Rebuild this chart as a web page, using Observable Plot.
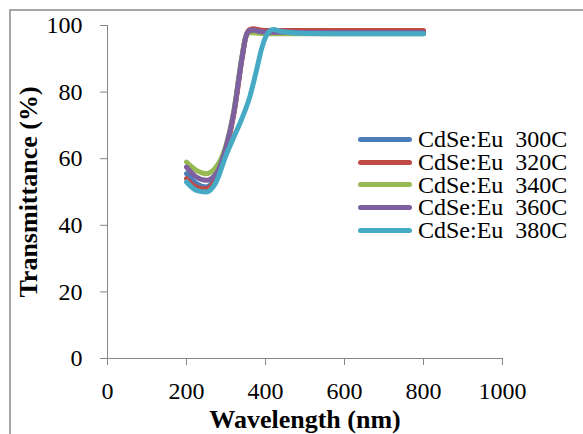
<!DOCTYPE html>
<html>
<head>
<meta charset="utf-8">
<script src="https://cdn.jsdelivr.net/npm/d3@7"></script>
<script src="https://cdn.jsdelivr.net/npm/@observablehq/plot@0.6"></script>
<style>
  html, body { margin: 0; padding: 0; background: #fff; }
  #wrap { position: relative; width: 583px; height: 434px; overflow: hidden; font-family: "Liberation Serif", "Times New Roman", serif; background: #fff; }
  #frame { position: absolute; left: 9px; top: 9px; width: 600px; height: 500px; border-top: 2px solid #a6a6a6; border-left: 2px solid #a6a6a6; pointer-events: none; }
  #chart { position: absolute; left: 0; top: 0; }
  #legend { position: absolute; left: 358px; top: 128px; }
  .row { display: flex; align-items: center; height: 22.7px; }
  .sw { width: 54px; height: 5px; border-radius: 3px; margin-right: 6px; }
  .lab { font-size: 24px; color: #000; white-space: pre; line-height: 22px; }
</style>
</head>
<body>
<div id="wrap">
  <div id="chart"></div>
  <div id="legend"></div>
  <div id="frame"></div>
</div>
<script>
const wavelength = [200, 225, 250, 275, 300, 320, 340, 350, 360, 370, 380, 390, 400, 410, 420, 440, 500, 600, 700, 800];
const t300 = [55.5, 52.5, 51.5, 54.5, 63, 74, 90, 96.5, 98.5, 98.3, 98.1, 98.0, 98.0, 97.9, 97.9, 97.9, 97.8, 97.8, 97.8, 97.8];
const t320 = [54, 51.5, 51, 54, 62.5, 73.5, 89.5, 96.5, 98.8, 99, 98.8, 98.6, 98.5, 98.5, 98.5, 98.5, 98.5, 98.5, 98.5, 98.5];
const t340 = [59, 56.5, 55.5, 57.5, 64, 74.5, 90.5, 96.5, 97.8, 97.8, 97.7, 97.6, 97.5, 97.5, 97.5, 97.5, 97.5, 97.5, 97.5, 97.5];
const t360 = [57.5, 54.5, 53.5, 55.5, 63.5, 74, 90, 96.5, 98.5, 98.6, 98.3, 98.1, 98.0, 98.0, 98.0, 98.0, 97.9, 97.9, 97.9, 97.9];
const t380 = [53, 50.5, 50, 53, 61, 66.5, 72, 75, 78.5, 83, 88, 93, 96.5, 98.3, 98.8, 98.2, 97.6, 97.5, 97.5, 97.5];

const seriesNames = ["CdSe:Eu  300C", "CdSe:Eu  320C", "CdSe:Eu  340C", "CdSe:Eu  360C", "CdSe:Eu  380C"];
const seriesColors = ["#4A7EBB", "#BE4B48", "#98B954", "#7D60A0", "#46AAC5"];
const xTicks = [0, 200, 400, 600, 800, 1000];
const yTicks = [0, 20, 40, 60, 80, 100];

const allSeries = [t300, t320, t340, t360, t380];
const rows = [];
allSeries.forEach((vals, i) => {
  vals.forEach((v, j) => rows.push({wl: wavelength[j], t: v, s: seriesNames[i]}));
});

const font = '"Liberation Serif", "Times New Roman", serif';
const axisGrey = "#868686";

const chart = Plot.plot({
  width: 583,
  height: 434,
  marginLeft: 107,
  marginRight: 81,
  marginTop: 25,
  marginBottom: 76,
  style: {fontFamily: font, fontSize: "24px", background: "transparent", color: "#000"},
  x: {domain: [0, 1000]},
  y: {domain: [0, 100]},
  color: {domain: seriesNames, range: seriesColors},
  marks: [
    Plot.ruleX([0], {stroke: axisGrey, strokeWidth: 1}),
    Plot.ruleY([0], {stroke: axisGrey, strokeWidth: 1}),
    Plot.axisX({ticks: xTicks, tickFormat: d => String(d), tickSize: 7, tickPadding: 16, stroke: axisGrey, fill: "#000", label: null, fontSize: 24}),
    Plot.axisY({ticks: yTicks, tickFormat: d => String(d), tickSize: 7, tickPadding: 18, stroke: axisGrey, fill: "#000", label: null, fontSize: 24}),
    Plot.line(rows, {x: "wl", y: "t", z: "s", stroke: "s", strokeWidth: 5, curve: "monotone-x", strokeLinecap: "round", strokeLinejoin: "round"}),
    Plot.text(["Wavelength (nm)"], {frameAnchor: "bottom", dy: 61, lineAnchor: "middle", textAnchor: "middle", fontWeight: "bold", fontSize: 26, fill: "#000"}),
    Plot.text(["Transmittance (%)"], {frameAnchor: "left", dx: -79, rotate: -90, textAnchor: "middle", lineAnchor: "middle", fontWeight: "bold", fontSize: 26, fill: "#000"})
  ]
});
document.getElementById("chart").appendChild(chart);

const legend = document.getElementById("legend");
seriesNames.forEach((n, i) => {
  const r = document.createElement("div");
  r.className = "row";
  const sw = document.createElement("div");
  sw.className = "sw";
  sw.style.background = seriesColors[i];
  const lb = document.createElement("span");
  lb.className = "lab";
  lb.textContent = n;
  r.appendChild(sw);
  r.appendChild(lb);
  legend.appendChild(r);
});
</script>
</body>
</html>
